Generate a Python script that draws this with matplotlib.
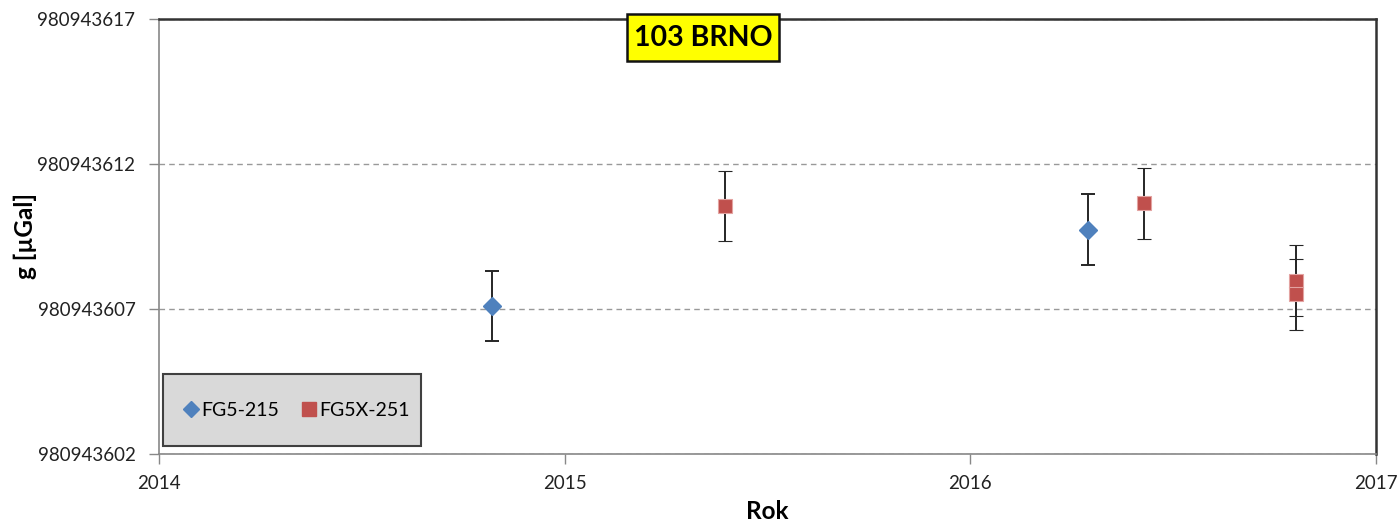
import numpy as np
import matplotlib.pyplot as plt
from matplotlib.patches import Rectangle
from matplotlib.ticker import FuncFormatter

plt.rcParams['font.family'] = ['Lato', 'DejaVu Sans']

# absolute gravity at 103 BRNO
fg5_t = [2014.82, 2016.29]
fg5_g = [980943607.09, 980943609.73]
fg5_err = [1.21, 1.22]

fg5x_t = [2015.395, 2016.427, 2016.803, 2016.803]
fg5x_g = [980943610.56, 980943610.65, 980943607.98, 980943607.50]
fg5x_err = [1.20, 1.22, 1.21, 1.21]

fig = plt.figure(figsize=(13.99, 5.22), dpi=100)
ax = fig.add_axes([0.1137, 0.1303, 0.8699, 0.8333])

ebkw = dict(ls='none', ecolor='#262626', elinewidth=1.4, capsize=5, capthick=1.4)
ax.errorbar(fg5_t, fg5_g, yerr=fg5_err, fmt='D', color='#4f81bd', ms=9,
            label='FG5-215', zorder=3, **ebkw)
ax.errorbar(fg5x_t, fg5x_g, yerr=fg5x_err, fmt='s', color='#c0504d', ms=9.5,
            mec='#e3a3a1', mew=0.8, label='FG5X-251', zorder=3, **ebkw)

ax.set_xlim(2014, 2017)
ax.set_ylim(980943602, 980943617)
ax.set_xticks([2014, 2015, 2016, 2017])
ax.set_yticks([980943602, 980943607, 980943612, 980943617])
ax.yaxis.set_major_formatter(FuncFormatter(lambda v, p: '%d' % round(v)))
ax.xaxis.set_major_formatter(FuncFormatter(lambda v, p: '%d' % round(v)))
ax.tick_params(axis='both', labelsize=13.5, color='#888888', length=7, width=1,
               labelcolor='#222222')
ax.tick_params(axis='y', pad=10)
ax.tick_params(axis='x', pad=8)

ax.grid(axis='y', ls=(0, (4, 3)), color='#999999', lw=1)
ax.set_axisbelow(True)
for s in ['left', 'bottom']:
    ax.spines[s].set_color('#888888')
    ax.spines[s].set_linewidth(1.2)
for s in ['right', 'top']:
    ax.spines[s].set_color('#333333')
    ax.spines[s].set_linewidth(1.8)

ax.set_xlabel('Rok', fontsize=17.5, fontweight='bold', labelpad=6)
ax.set_ylabel('g [µGal]', fontsize=17.5, fontweight='bold')
ax.yaxis.set_label_coords(-0.1, 0.5)

# grey legend box
ax.add_patch(Rectangle((0.0033, 0.018), 0.212, 0.1655, transform=ax.transAxes,
                       facecolor='#d9d9d9', edgecolor='#404040', lw=1.5,
                       zorder=4))
h1 = ax.plot([], [], 'D', color='#4f81bd', ms=8)[0]
h2 = ax.plot([], [], 's', color='#c0504d', ms=10)[0]
leg = ax.legend([h1, h2], ['FG5-215', 'FG5X-251'], loc='center',
                bbox_to_anchor=(0.113, 0.101), ncol=2, fontsize=14,
                frameon=False, handlelength=0.8, handletextpad=0.15,
                columnspacing=1.1)
leg.set_zorder(5)

# station name box
fig.patches.append(Rectangle((627 / 1399, 1 - 61 / 522), 152 / 1399, 47 / 522,
                             transform=fig.transFigure, facecolor='#ffff00',
                             edgecolor='#111111', lw=1.8, zorder=5))
fig.text(703 / 1399, 1 - 38 / 522, '103 BRNO', fontsize=20.5, fontweight='bold',
         ha='center', va='center', zorder=6)

fig.savefig('out.png', dpi=100)
